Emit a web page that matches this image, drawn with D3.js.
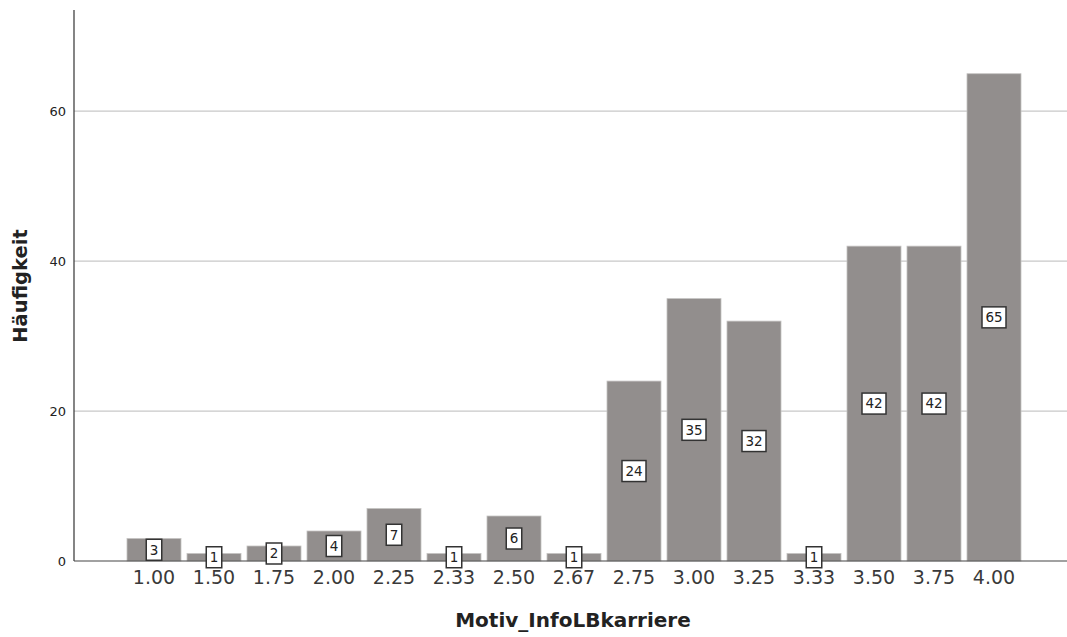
<!DOCTYPE html>
<html>
<head>
<meta charset="utf-8">
<script src="https://cdn.jsdelivr.net/npm/d3@7/dist/d3.min.js"></script>
<style>
  html, body { margin: 0; padding: 0; background: #fff; }
  svg { display: block; font-family: "DejaVu Sans", sans-serif; }
</style>
</head>
<body>
<svg id="chart" width="1067" height="637"></svg>
<script>
const categories = ["1.00","1.50","1.75","2.00","2.25","2.33","2.50","2.67","2.75","3.00","3.25","3.33","3.50","3.75","4.00"];
const counts = [3,1,2,4,7,1,6,1,24,35,32,1,42,42,65];
const yTicks = [0,20,40,60];
const xTitle = "Motiv_InfoLBkarriere";
const yTitle = "Häufigkeit";

const data = categories.map((c, i) => ({cat: c, val: counts[i]}));

const svg = d3.select("#chart");
const pLeft = 74, pRight = 1067, pTop = 10, pBottom = 561;

const x = d3.scaleBand().domain(categories).range([124, 1024]).paddingInner(0.1).paddingOuter(0.05);
const y = d3.scaleLinear().domain([0, 73.5]).range([pBottom, pTop]);

// gridlines
svg.append("g").selectAll("line").data(yTicks.filter(d => d > 0)).join("line")
  .attr("x1", pLeft).attr("x2", pRight)
  .attr("y1", d => y(d)).attr("y2", d => y(d))
  .attr("stroke", "#c8c8c8").attr("stroke-width", 1.2);

// bars
svg.append("g").selectAll("rect").data(data).join("rect")
  .attr("x", d => x(d.cat))
  .attr("width", x.bandwidth())
  .attr("y", d => y(d.val))
  .attr("height", d => y(0) - y(d.val))
  .attr("fill", "#928e8d")
  .attr("stroke", "#c4c2c1").attr("stroke-width", 0.8);

// y axis
const yAxis = d3.axisLeft(y).tickValues(yTicks).tickSize(0).tickPadding(8).tickFormat(d3.format("d"));
const gy = svg.append("g").attr("transform", `translate(${pLeft},0)`).call(yAxis);
gy.select(".domain").remove();
gy.selectAll("text").attr("font-size", 13).attr("fill", "#222").attr("font-family", "DejaVu Sans, sans-serif");
svg.append("line").attr("x1", pLeft).attr("x2", pLeft).attr("y1", pTop).attr("y2", pBottom)
  .attr("stroke", "#333").attr("stroke-width", 1.2);
svg.append("line").attr("x1", pLeft).attr("x2", pRight).attr("y1", pBottom).attr("y2", pBottom)
  .attr("stroke", "#444").attr("stroke-width", 1.2);

// x axis labels
const xAxis = d3.axisBottom(x).tickSize(0).tickPadding(10);
const gx = svg.append("g").attr("transform", `translate(0,${pBottom})`).call(xAxis);
gx.select(".domain").remove();
gx.selectAll("text").attr("font-size", 19).attr("fill", "#3a3a3a").attr("font-family", "DejaVu Sans, sans-serif");

// value labels
const lab = svg.append("g").selectAll("g").data(data).join("g")
  .attr("transform", d => `translate(${x(d.cat) + x.bandwidth()/2},${y(d.val/2)})`);
lab.append("rect")
  .attr("x", d => -(String(d.val).length * 8.5 + 7)/2)
  .attr("width", d => String(d.val).length * 8.5 + 7)
  .attr("y", -10.5).attr("height", 21)
  .attr("fill", "#fff").attr("stroke", "#333").attr("stroke-width", 1.5);
lab.append("text").text(d => d.val)
  .attr("text-anchor", "middle").attr("dy", "0.36em")
  .attr("font-size", 13.5).attr("fill", "#222");

// titles
svg.append("text").text(xTitle)
  .attr("x", 573).attr("y", 627).attr("text-anchor", "middle")
  .attr("font-size", 20).attr("font-weight", "bold").attr("fill", "#222");
svg.append("text").text(yTitle)
  .attr("transform", "translate(27,286) rotate(-90)").attr("text-anchor", "middle")
  .attr("font-size", 19.5).attr("font-weight", "bold").attr("fill", "#222");
</script>
</body>
</html>
